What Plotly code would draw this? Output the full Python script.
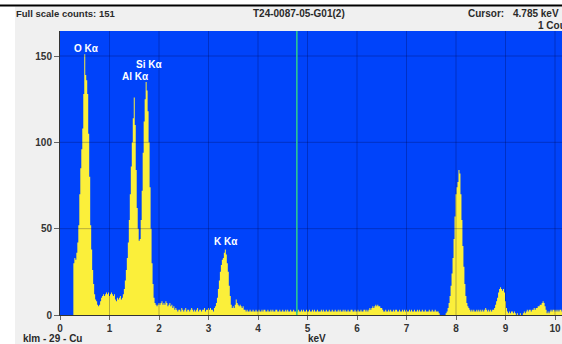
import plotly.graph_objects as go

# ---------------- data ----------------
CHANNEL_KEV = 0.02  # energy width of one channel (keV)
counts = [
    0, 0, 0, 0, 0, 0, 0, 0, 0, 0, 0, 0, 0, 0, 30, 33, 32, 36, 42, 52, 70, 85, 96, 108, 128,
    151, 139, 136, 128, 105, 80, 52, 38, 26, 18, 12, 9, 8, 6, 5, 6, 8, 10, 11, 12, 11, 12, 13, 12, 13,
    11, 12, 13, 12, 11, 12, 9, 8, 10, 9, 10, 11, 9, 10, 12, 15, 20, 26, 33, 42, 55, 70, 86, 100, 114,
    126, 110, 84, 62, 50, 43, 44, 55, 72, 94, 112, 125, 135, 130, 118, 100, 74, 50, 30, 18, 10, 7, 6, 5, 6,
    7, 6, 7, 8, 6, 7, 6, 8, 7, 5, 6, 7, 5, 6, 4, 5, 3, 4, 3, 2, 3, 3, 2, 4, 3,
    2, 3, 4, 2, 3, 3, 2, 3, 4, 3, 2, 3, 2, 3, 4, 2, 3, 3, 2, 3, 3, 4, 2, 3, 3,
    4, 3, 4, 3, 3, 2, 4, 5, 7, 10, 15, 20, 25, 29, 32, 33, 36, 38, 35, 30, 25, 17, 11, 6, 4,
    5, 4, 6, 9, 7, 6, 5, 6, 5, 4, 5, 3, 3, 2, 3, 2, 2, 3, 2, 2, 3, 2, 2, 3, 2,
    2, 3, 2, 2, 3, 2, 3, 3, 2, 2, 3, 2, 2, 3, 2, 3, 2, 2, 3, 3, 2, 2, 3, 2, 2,
    3, 2, 2, 3, 2, 3, 2, 2, 3, 2, 2, 3, 2, 2, 1, 2, 3, 2, 2, 3, 2, 3, 2, 2, 3,
    2, 2, 3, 2, 2, 3, 2, 3, 2, 2, 3, 2, 2, 2, 3, 2, 3, 2, 2, 3, 2, 2, 3, 2, 2,
    3, 2, 2, 3, 2, 2, 3, 2, 3, 2, 2, 3, 2, 3, 2, 2, 3, 2, 2, 3, 3, 2, 2, 3, 2,
    2, 3, 2, 2, 3, 2, 2, 3, 3, 2, 3, 2, 3, 4, 3, 4, 5, 4, 5, 6, 5, 6, 5, 5, 4,
    4, 3, 2, 2, 3, 2, 2, 3, 2, 3, 2, 2, 3, 2, 3, 3, 2, 2, 3, 2, 2, 3, 2, 3, 2,
    3, 2, 2, 3, 2, 3, 2, 2, 3, 2, 2, 3, 2, 3, 2, 2, 3, 2, 2, 3, 2, 2, 2, 3, 2,
    2, 3, 2, 2, 3, 2, 2, 2, 1, 0, 0, 0, 0, 0, 0, 1, 2, 4, 7, 11, 17, 24, 33, 44, 57,
    70, 74, 77, 84, 82, 70, 55, 40, 28, 18, 11, 7, 5, 4, 3, 2, 3, 2, 3, 2, 2, 3, 2, 3, 2,
    3, 2, 3, 2, 3, 4, 3, 2, 3, 2, 3, 2, 3, 3, 4, 6, 8, 10, 13, 15, 16, 15, 14, 15, 13,
    8, 4, 2, 1, 2, 1, 2, 2, 1, 2, 1, 0, 1, 0, 0, 1, 0, 0, 1, 2, 1, 2, 3, 2, 3,
    3, 2, 3, 3, 4, 3, 4, 4, 5, 5, 6, 6, 7, 8, 7, 5, 3, 1, 2, 1, 2, 3, 2, 3, 3,
    2, 3, 2, 3, 2, 3, 3, 2, 3, 2,
]
energy = [i * CHANNEL_KEV for i in range(len(counts))]

peak_labels = ["O Kα", "Al Kα", "Si Kα", "K Kα"]
peak_label_kev = [0.53, 1.52, 1.795, 3.35]
peak_label_counts = [154.6, 138.4, 144.8, 42.3]

x_ticks = [0, 1, 2, 3, 4, 5, 6, 7, 8, 9, 10]
y_ticks = [0, 50, 100, 150]
cursor_kev = 4.785

title_text = "T24-0087-05-G01(2)"
full_scale_text = "Full scale counts: 151"
cursor_label = "Cursor:"
cursor_value = "4.785 keV"
cursor_counts = "1 Counts"
footer_left = "klm - 29 - Cu"
x_title = "keV"

# ---------------- layout geometry (pixels) ----------------
W, H = 562, 344
L, R, T, B = 60, 562, 31, 315
X_MAX = (R - L) / 49.5
Y_MAX = (B - T) / 1.7267

def px(xp):
    return (xp - L) / (R - L)

def py(yp):
    return (B - yp) / (B - T)

BLUE = "#0043fa"
YELLOW = "#fbef3a"
TXT = "#2a2a2a"
FONT = "Liberation Sans"

fig = go.Figure()
fig.add_trace(go.Scatter(
    x=energy, y=counts, mode="lines", line_shape="hvh",
    line=dict(width=0, color=YELLOW), fill="tozeroy", fillcolor=YELLOW,
    hoverinfo="skip", showlegend=False,
))

shapes = []
# white strips outside the grey panel + top black rule
shapes.append(dict(type="rect", xref="paper", yref="paper", x0=px(-5), x1=px(15),
                   y0=py(-5), y1=py(H + 5), fillcolor="white", line=dict(width=0), layer="below"))
shapes.append(dict(type="rect", xref="paper", yref="paper", x0=px(-5), x1=px(W + 5),
                   y0=py(-5), y1=py(6.5), fillcolor="white", line=dict(width=0), layer="below"))
shapes.append(dict(type="line", xref="paper", yref="paper", x0=px(0), x1=px(W + 5),
                   y0=py(5.5), y1=py(5.5), line=dict(color="black", width=2)))
# grid drawn over the spectrum
for xv in x_ticks[1:]:
    shapes.append(dict(type="line", xref="x", yref="paper", x0=xv, x1=xv, y0=0, y1=1,
                       line=dict(color="rgba(0,0,60,0.28)", width=1), layer="above"))
for yv in y_ticks[1:]:
    shapes.append(dict(type="line", xref="paper", yref="y", x0=0, x1=1, y0=yv, y1=yv,
                       line=dict(color="rgba(0,0,60,0.28)", width=1), layer="above"))
# cursor
shapes.append(dict(type="line", xref="x", yref="paper", x0=cursor_kev, x1=cursor_kev, y0=0, y1=1,
                   line=dict(color="#2ccf8c", width=1.5), layer="above"))

annotations = []
hdr = dict(family=FONT, size=10, color=TXT, weight="bold")
def ann(text, xp, yp, xanchor="left", font=hdr):
    annotations.append(dict(text=text, xref="paper", yref="paper", x=px(xp), y=py(yp),
                            xanchor=xanchor, yanchor="middle", showarrow=False, font=font))

ann(full_scale_text, 14, 14, font=dict(hdr, size=9.5))
ann(title_text, 299, 14, "center")
ann(cursor_label, 466, 14)
ann(cursor_value, 511, 14)
ann(cursor_counts, 536, 25)
ann(footer_left, 21, 338)
ann(x_title, 306, 338)

for lab, xk, yc in zip(peak_labels, peak_label_kev, peak_label_counts):
    annotations.append(dict(text=lab, x=xk, y=yc, xref="x", yref="y", showarrow=False,
                            xanchor="center", yanchor="middle",
                            font=dict(family=FONT, size=10, color="white", weight="bold")))

tickfont = dict(family=FONT, size=10, color="#333333", weight="bold")
fig.update_layout(
    width=W, height=H, autosize=False,
    margin=dict(l=L, r=W - R, t=T, b=H - B, pad=0),
    paper_bgcolor="#f0f0f0", plot_bgcolor=BLUE,
    shapes=shapes, annotations=annotations, showlegend=False,
    xaxis=dict(range=[0, X_MAX], tickvals=x_ticks, ticks="outside", ticklen=4,
               tickcolor="#666666", tickfont=tickfont, showgrid=False, zeroline=False,
               showline=True, linecolor="#333333", linewidth=1, layer="above traces",
               fixedrange=True, automargin=False),
    yaxis=dict(range=[0, Y_MAX], tickvals=y_ticks, ticks="outside", ticklen=5,
               tickcolor="#666666", tickfont=tickfont, showgrid=False, zeroline=False,
               showline=True, linecolor="#333333", linewidth=1, layer="above traces",
               fixedrange=True, automargin=False),
)

fig.write_html(
    "out.html",
    config={"displayModeBar": False, "staticPlot": True},
    post_script="document.body.style.margin='0';document.body.style.overflow='hidden';",
)
